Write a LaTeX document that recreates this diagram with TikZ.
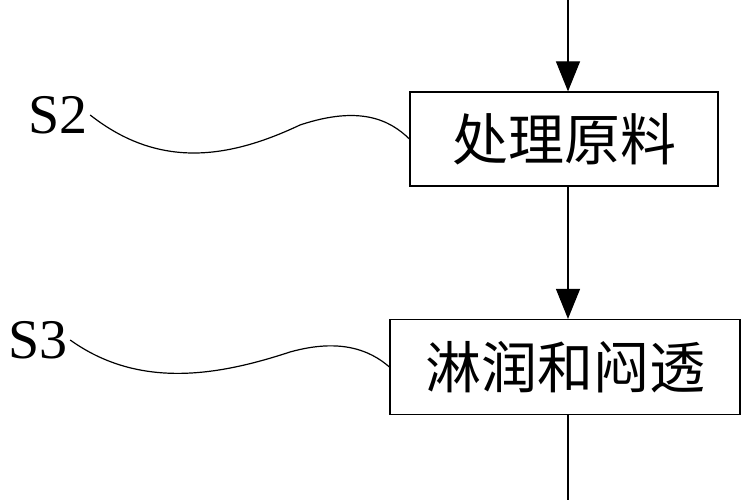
\documentclass[tikz,border=0pt]{standalone}
\usepackage{fontspec}
\setmainfont{Liberation Serif}
\newfontfamily\cjk{Noto Sans CJK SC}
\usetikzlibrary{arrows.meta}
\begin{document}
\begin{tikzpicture}[x=1pt,y=-1pt,line width=1.2pt]
    \tikzstyle{stepbox}=[
        draw = black,
        fill = white,
        inner sep = 0pt,
        font = \cjk\fontsize{56}{60}\selectfont
    ]
    \tikzstyle{flow}=[-{Triangle[length=30pt,width=24pt]}]
    \tikzstyle{tag}=[font=\fontsize{56}{60}\selectfont]

    \useasboundingbox (0,0) rectangle (750,500);

    \coordinate (top) at (568, 0);
    \coordinate (bot) at (568, 500);
    \node[stepbox, minimum width=308pt, minimum height=94pt] (a) at (564, 139) {处理原料};
    \node[stepbox, minimum width=350pt, minimum height=95pt] (b) at (565, 367) {淋润和闷透};
    \node[tag, inner sep=2pt] (s2) at (58, 115) {S2};
    \node[tag, inner sep=2pt] (s3) at (38, 340) {S3};

    \draw[flow] (top) -- (top |- a.north);
    \draw[flow] (a.south -| top) -- (b.north -| top);
    \draw (b.south -| top) -- (bot);

    \draw (s2.east) .. controls (160, 170) and (230, 158) .. (300, 125)
        .. controls (360, 105) and (390, 120) .. (a.west);
    \draw (s3.east) .. controls (140, 390) and (220, 375) .. (290, 352)
        .. controls (340, 338) and (370, 350) .. (b.west);
\end{tikzpicture}
\end{document}
